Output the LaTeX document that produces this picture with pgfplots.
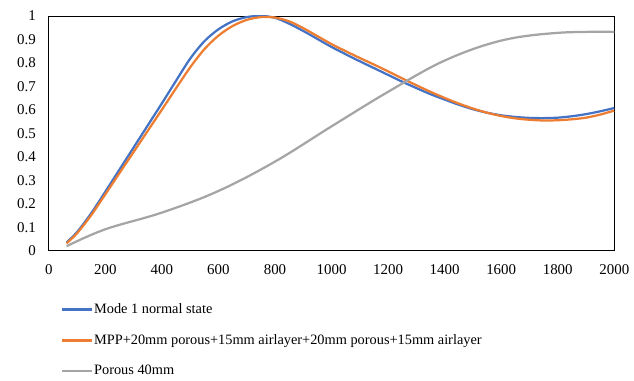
\documentclass[border=0pt]{standalone}
\usepackage{pgfplots}
\pgfplotsset{compat=1.18}
\usepackage{fontspec}
\setmainfont{Liberation Serif}
\definecolor{cblue}{HTML}{4472C4}
\definecolor{corange}{HTML}{ED7D31}
\definecolor{cgray}{HTML}{A5A5A5}
\begin{document}
\fontsize{14.4}{17}\selectfont
\begin{tikzpicture}
\begin{axis}[name=ax,
  scale only axis, width=568pt, height=236pt,
  xmin=0, xmax=2000, ymin=0, ymax=1,
  xtick={0,200,...,2000}, ytick={0,0.1,...,1},
  yticklabels={0,0.1,0.2,0.3,0.4,0.5,0.6,0.7,0.8,0.9,1},
  scaled x ticks=false,
  /pgf/number format/assume math mode=true,
  /pgf/number format/.cd, 1000 sep={}, /pgfplots/.cd,
  major tick length=0pt,
  tick label style={font=\fontsize{15}{17}\selectfont},
  xticklabel style={yshift=-9pt},
  yticklabel style={xshift=-8pt},
  axis line style={black, line width=0.8pt},
  clip=true,
  legend style={draw=none, fill=none, at={(rel axis cs:0.016,-0.21)}, anchor=north west,
    font=\fontsize{14.4}{17}\selectfont, row sep=17pt, legend cell align=left,
    nodes={inner sep=1pt}},
  legend image code/.code={\draw[#1, line width=2.25pt] (0pt,0pt) -- (30pt,0pt);},
  every axis plot/.append style={line width=2.25pt, smooth, tension=0.5},
]
\addplot[cblue] coordinates {(63,0.036)(100,0.08)(150,0.16)(200,0.252)(250,0.346)(300,0.44)(350,0.534)(400,0.628)(450,0.724)(500,0.818)(550,0.892)(600,0.943)(650,0.977)(700,0.995)(750,1.0)(800,0.992)(850,0.967)(900,0.936)(950,0.902)(1000,0.868)(1050,0.837)(1100,0.807)(1150,0.778)(1200,0.749)(1250,0.72)(1300,0.693)(1350,0.667)(1400,0.644)(1450,0.622)(1500,0.603)(1550,0.588)(1600,0.577)(1650,0.57)(1700,0.566)(1750,0.565)(1800,0.567)(1850,0.573)(1900,0.582)(1950,0.594)(2000,0.608)};
\addlegendentry{Mode 1 normal state}
\addplot[corange] coordinates {(63,0.032)(100,0.075)(150,0.152)(200,0.241)(250,0.331)(300,0.421)(350,0.511)(400,0.601)(450,0.692)(500,0.781)(550,0.858)(600,0.916)(650,0.957)(700,0.983)(750,0.995)(800,0.993)(850,0.977)(900,0.948)(950,0.914)(1000,0.88)(1050,0.85)(1100,0.821)(1150,0.793)(1200,0.764)(1250,0.734)(1300,0.705)(1350,0.677)(1400,0.651)(1450,0.627)(1500,0.606)(1550,0.588)(1600,0.574)(1650,0.564)(1700,0.558)(1750,0.555)(1800,0.556)(1850,0.56)(1900,0.567)(1950,0.58)(2000,0.597)};
\addlegendentry{MPP+20mm porous+15mm airlayer+20mm porous+15mm airlayer}
\addplot[cgray, tension=0.6] coordinates {(63,0.02)(200,0.092)(400,0.163)(600,0.255)(800,0.38)(1000,0.53)(1200,0.677)(1400,0.81)(1600,0.895)(1800,0.928)(2000,0.932)};
\addlegendentry{Porous 40mm}
\end{axis}
\path (ax.south west) ++(-49pt,-125pt) coordinate (bl);
\path (ax.north east) ++(17pt,16pt) coordinate (tr);
\path[use as bounding box] (bl) rectangle (tr);
\end{tikzpicture}
\end{document}
